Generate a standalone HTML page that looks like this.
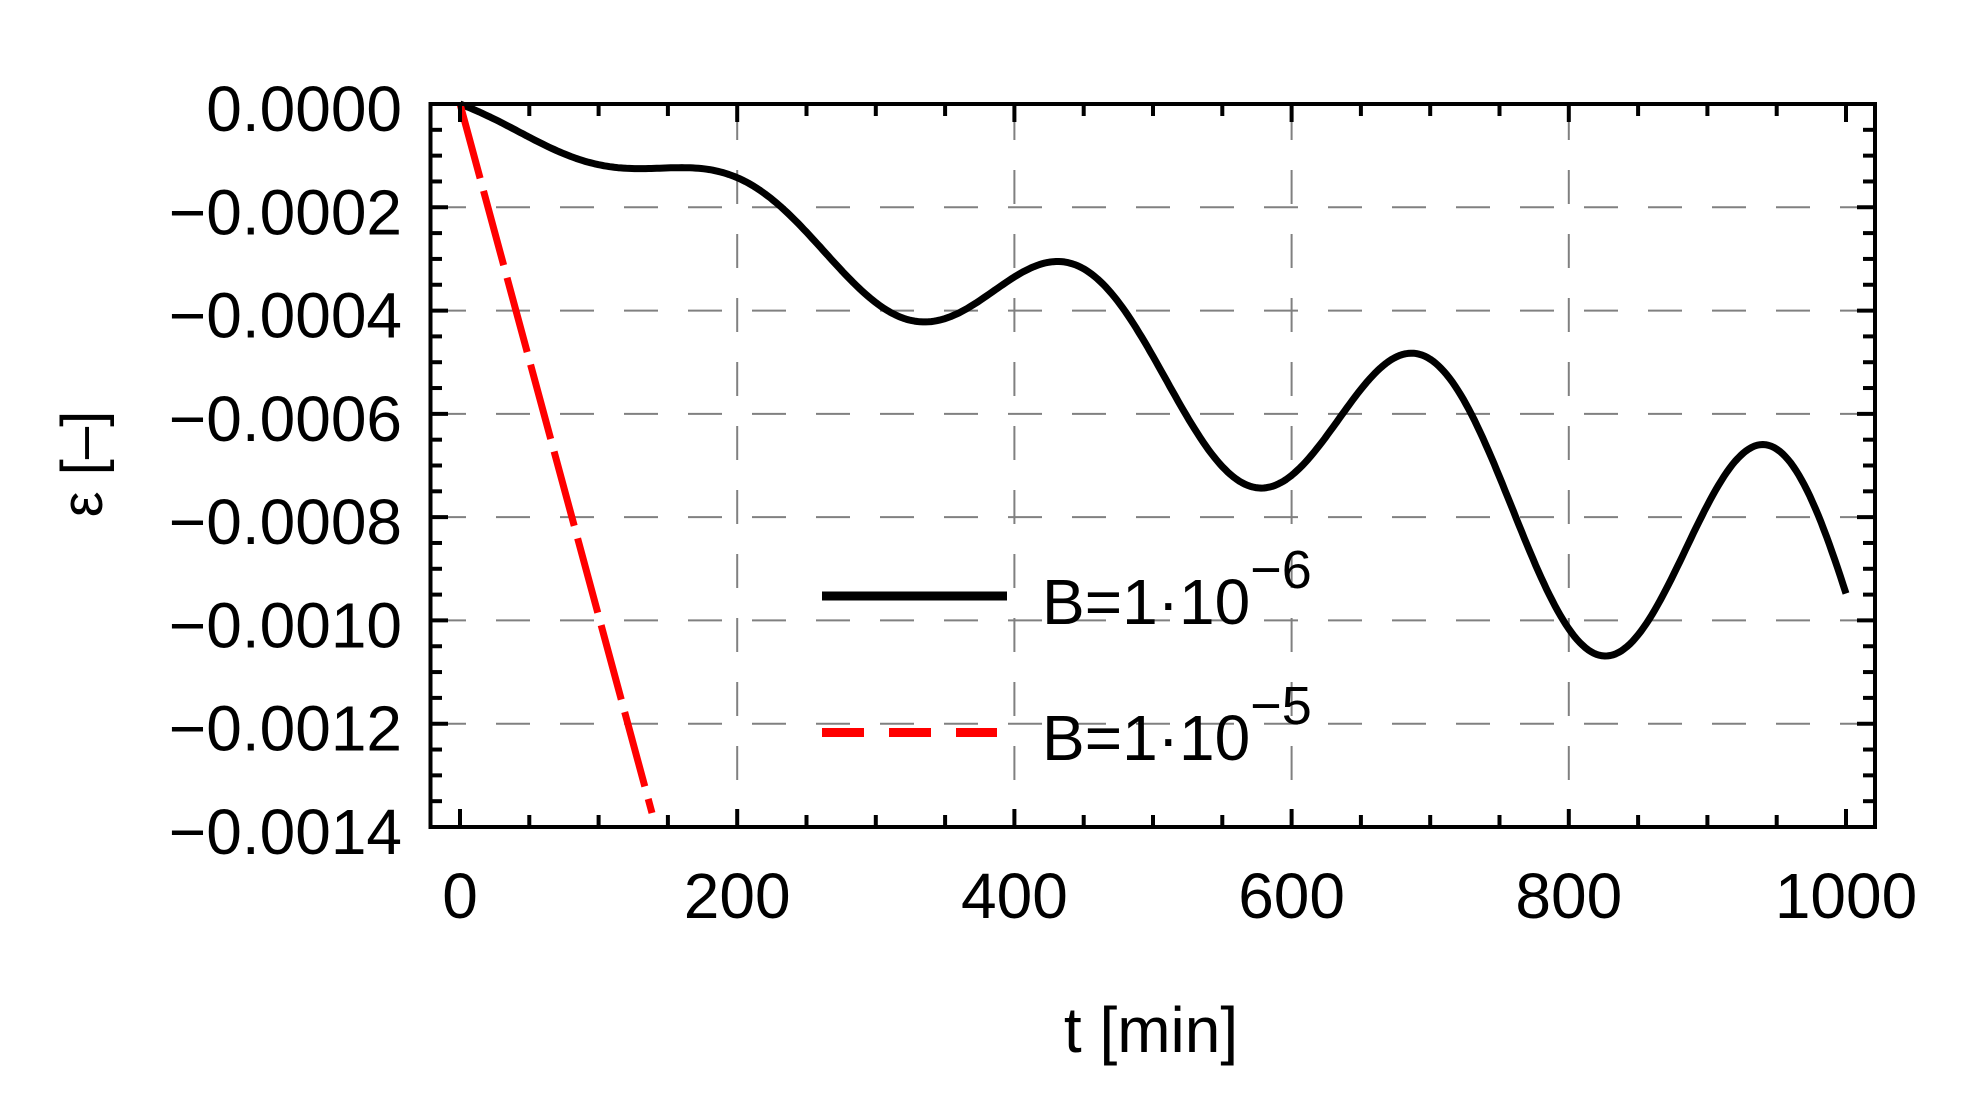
<!DOCTYPE html>
<html><head><meta charset="utf-8"><style>
html,body{margin:0;padding:0;background:#fff;}
svg{display:block;}
text{font-family:"Liberation Sans",sans-serif;fill:#000;}
</style></head><body>
<svg id="s" width="1968" height="1099" xmlns="http://www.w3.org/2000/svg">
<rect width="1968" height="1099" fill="#fff"/>
<g id="grid" stroke="#808080" stroke-width="2" stroke-dasharray="34,30"></g>
<path id="black" fill="none" stroke="#000" stroke-width="7" stroke-linejoin="round"/>
<line x1="460" y1="104" x2="652" y2="813" stroke="#ff0000" stroke-width="7" stroke-dasharray="77,13"/>
<rect x="430.5" y="104" width="1444.5" height="723" fill="none" stroke="#000" stroke-width="4"/>
<g id="ticks" stroke="#000" stroke-width="4"></g>
<g id="labels" font-size="64"></g>
<line x1="822" y1="596" x2="1007" y2="596" stroke="#000" stroke-width="9"/>
<text x="1042" y="624" font-size="64">B=1·10<tspan dy="-36" font-size="54">−6</tspan></text>
<rect x="822" y="728" width="42" height="9" fill="#ff0000"/>
<rect x="889" y="728" width="42" height="9" fill="#ff0000"/>
<rect x="956" y="728" width="41" height="9" fill="#ff0000"/>
<text x="1042" y="760" font-size="64">B=1·10<tspan dy="-36" font-size="54">−5</tspan></text>
<text x="1151" y="1052" font-size="64" text-anchor="middle">t [min]</text>
<text transform="translate(102,464) rotate(-90)" font-size="58" text-anchor="middle">ε [–]</text>
</svg>
<script>
var NS="http://www.w3.org/2000/svg";
function X(t){return 460+t*1.386;}
function Y(e){return 104-e/0.0014*723;}
function el(p,n,a){var e=document.createElementNS(NS,n);for(var k in a)e.setAttribute(k,a[k]);p.appendChild(e);return e;}
var g=document.getElementById('grid'),tk=document.getElementById('ticks'),lb=document.getElementById('labels');
for(var t=200;t<=800;t+=200){el(g,'line',{x1:X(t),y1:106,x2:X(t),y2:825});}
for(var i=1;i<=6;i++){var y=Y(-0.0002*i);el(g,'line',{x1:432,y1:y,x2:1873,y2:y});}
for(var t=0;t<=1000;t+=50){var maj=t%200==0,L=maj?18:12,x=X(t);
 el(tk,'line',{x1:x,y1:827,x2:x,y2:827-L});el(tk,'line',{x1:x,y1:104,x2:x,y2:104+L});
 if(maj){var tx=el(lb,'text',{x:x,y:918,'text-anchor':'middle'});tx.textContent=t;}}
for(var i=0;i<=28;i++){var e=-0.00005*i,y=Y(e),maj=i%4==0,L=maj?18:12;
 el(tk,'line',{x1:430,y1:y,x2:430+L,y2:y});el(tk,'line',{x1:1875,y1:y,x2:1875-L,y2:y});
 if(maj){var tx=el(lb,'text',{x:402,y:y+27,'text-anchor':'end'});tx.textContent=(i==0?'0.0000':'−'+(0.0002*i/4).toFixed(4));}}
var d='';
for(var t=0;t<=1000;t+=2){var e=-1e-6*t+3e-7*t*Math.cos(2*Math.PI*(t-440)/252);d+=(t?'L':'M')+X(t).toFixed(1)+','+Y(e).toFixed(1);}
document.getElementById('black').setAttribute('d',d);
</script>
</body></html>
